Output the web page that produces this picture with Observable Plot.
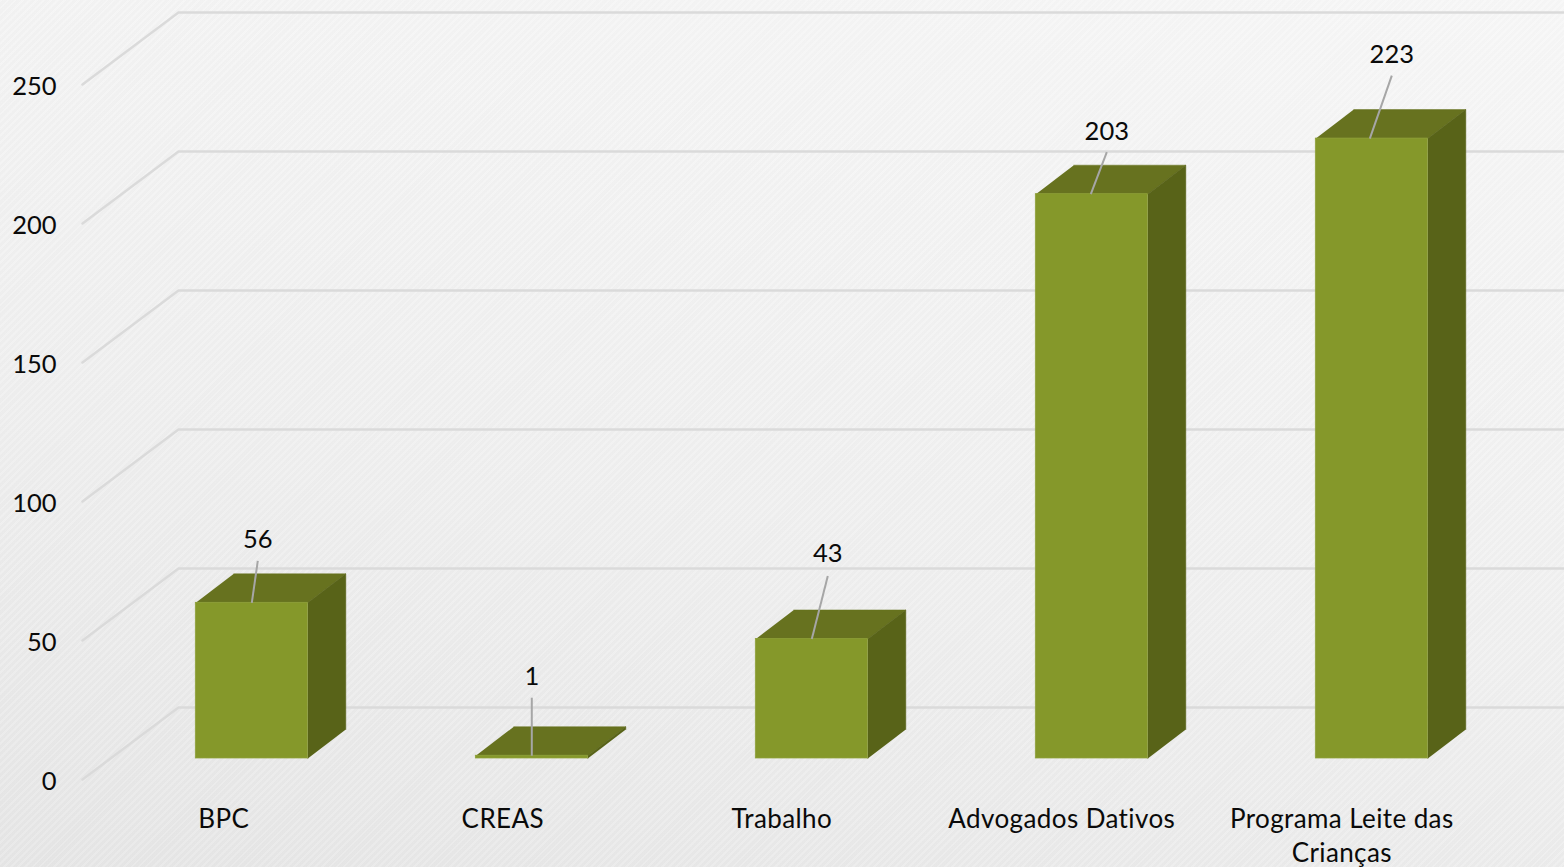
<!DOCTYPE html>
<html>
<head>
<meta charset="utf-8">
<script src="https://cdn.jsdelivr.net/npm/d3@7"></script>
<script src="https://cdn.jsdelivr.net/npm/@observablehq/plot@0.6"></script>
<style>
html,body{margin:0;padding:0;width:1564px;height:867px;overflow:hidden;
background:
 repeating-linear-gradient(135deg,rgba(255,255,255,.14) 0 2px,rgba(0,0,0,.008) 2px 5px),
 linear-gradient(12deg,#e6e6e6 0%,#efefef 40%,#f7f7f7 100%);}
svg{display:block;}
.cat text, text.cat, .cat{letter-spacing:0.4px;font-variant-ligatures:none;}
</style>
</head>
<body>
<div id="chart"></div>
<script>
const categories = ["BPC","CREAS","Trabalho","Advogados Dativos","Programa Leite das\nCrianças"];
const values = [56,1,43,203,223];
const yTicks = [0,50,100,150,200,250];

// Layout (pixels per scale unit, 3-D shear, label shifts)
const PX = 280, PY = 2.78;
const X0 = 251.3;
const barHalf = 56/PX;
const floor = 21/PY;
const depthX = 38/PX, depthY = 29/PY;
const wallX = 96/PX, wallY = 72/PY;
const axisLeft = (82-X0)/PX;
const chartRight = (1564-X0)/PX;
const leaderBase = [0,0,0,-1,-2];
const leaderShift = [[6,42],[0,58],[16,63],[15,42],[20,63]];
const labelShift = [[6,63],[0,79],[16,85],[15,62],[20,84]];
const catShift = [-28,-29,-30,-30,-30];
const textStyle = {fontFamily:"Lato, Carlito, sans-serif", fill:"#0a0a0a"};

const bars = categories.map((c,i)=>({i, c, v:values[i],
  x1:i-barHalf, x2:i+barHalf, y1:floor, y2:values[i]+floor}));

const topFaces = bars.flatMap(b=>[
  [b.x1,b.y2],[b.x2,b.y2],[b.x2+depthX,b.y2+depthY],[b.x1+depthX,b.y2+depthY]
].map(p=>({id:b.i,x:p[0],y:p[1]})));
const sideFaces = bars.flatMap(b=>[
  [b.x2,b.y1],[b.x2,b.y2],[b.x2+depthX,b.y2+depthY],[b.x2+depthX,b.y1+depthY]
].map(p=>({id:b.i,x:p[0],y:p[1]})));
const gridPts = yTicks.flatMap(t=>[
  [axisLeft,t],[axisLeft+wallX,t+wallY],[chartRight,t+wallY]
].map(p=>({id:t,x:p[0],y:p[1]})));

const chart = Plot.plot({
  width:1564, height:867,
  marginTop:0, marginRight:0, marginBottom:0, marginLeft:0,
  style:{background:"transparent"},
  x:{type:"linear", domain:[-0.5,4.5], range:[X0-140,X0+1260], axis:null},
  y:{type:"linear", domain:[0,250], range:[779,84], axis:null},
  marks:[
    Plot.line(gridPts,{x:"x",y:"y",z:"id",stroke:"#dadada",strokeWidth:2.5,curve:"linear"}),
    Plot.line(topFaces,{x:"x",y:"y",z:"id",fill:"#67721f",stroke:"#67721f",strokeWidth:0.5}),
    Plot.line(sideFaces,{x:"x",y:"y",z:"id",fill:"#586318",stroke:"#586318",strokeWidth:0.5}),
    Plot.rect(bars,{x1:"x1",x2:"x2",y1:"y1",y2:"y2",fill:"#85982a",stroke:"#8fa13a",strokeWidth:0.75}),
    Plot.link(bars,{
      x1:b=>b.i+leaderBase[b.i]/PX, y1:"y2",
      x2:b=>b.i+leaderShift[b.i][0]/PX,
      y2:b=>b.y2+leaderShift[b.i][1]/PY,
      stroke:"#a6a6a6",strokeWidth:2
    }),
    Plot.text(bars,{
      x:b=>b.i+labelShift[b.i][0]/PX,
      y:b=>b.y2+labelShift[b.i][1]/PY,
      text:b=>String(b.v),fontSize:25.5,...textStyle
    }),
    Plot.text(yTicks,{
      x:()=> (56-X0)/PX, y:d=>d, text:d=>String(d), textAnchor:"end", dy:2, fontSize:25.5, ...textStyle
    }),
    Plot.text(bars,{
      x:b=>b.i+catShift[b.i]/PX, y:()=>-14, text:"c", lineAnchor:"top", lineHeight:1.31, dy:-15,
      fontSize:26, className:"cat", ...textStyle
    })
  ]
});
document.getElementById("chart").append(chart);
</script>
</body>
</html>
